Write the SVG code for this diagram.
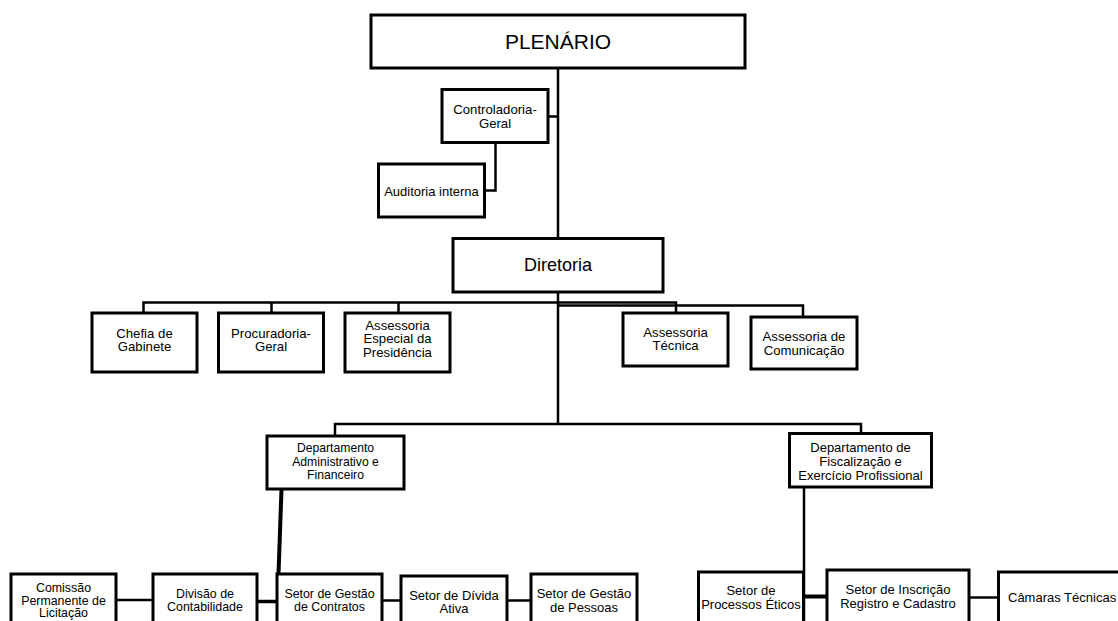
<svg xmlns="http://www.w3.org/2000/svg" width="1118" height="621" viewBox="0 0 1118 621">
<style>
.box{fill:#fff;stroke:#000;stroke-width:3}
.ln{fill:none;stroke:#000;stroke-width:2.5}
text{font-family:"Liberation Sans",Arial,sans-serif;fill:#000;text-anchor:middle;dominant-baseline:central}
.t13{font-size:13px}
.tb{font-size:12.4px}
.t135{font-size:13.2px}
</style>
<rect width="1118" height="621" fill="#fff"/>
<g id="connectors">
<path class="ln" d="M558,68V238M558,292V424"/>
<path class="ln" d="M548,116.5H558"/>
<path class="ln" d="M495.5,142V190.5H484"/>
<path class="ln" d="M143.5,313V302.5H676V313M271.5,302.5V313M398.5,302.5V313"/>
<path class="ln" d="M558,305.5H803V317"/>
<path class="ln" d="M335,436V424H861V433"/>
<path class="ln" d="M281.5,489L278.5,574" style="stroke-width:4"/>
<path class="ln" d="M116,600H153"/>
<path class="ln" d="M257,601.5H277" style="stroke-width:3.5"/>
<path class="ln" d="M382,600.5H401"/>
<path class="ln" d="M507,600.5H531"/>
<path class="ln" d="M804,487V621"/>
<path class="ln" d="M804,596.5H827" style="stroke-width:4"/>
<path class="ln" d="M969,597.5H998"/>
</g>
<g id="plenario"><rect class="box" x="371" y="15" width="374" height="53"/><text x="558" y="41.5" style="font-size:21px">PLENÁRIO</text></g>
<g id="controladoria"><rect class="box" x="442" y="89.5" width="106" height="53"/><text class="t135" x="495" y="109">Controladoria-</text><text class="t135" x="495" y="123">Geral</text></g>
<g id="auditoria"><rect class="box" x="378.5" y="164" width="106" height="53"/><text class="t13" x="431.5" y="191">Auditoria interna</text></g>
<g id="diretoria"><rect class="box" x="453" y="238.5" width="210" height="53.5"/><text x="558" y="264.5" style="font-size:18px">Diretoria</text></g>
<g id="chefia"><rect class="box" x="92" y="313" width="105" height="59"/><text class="t135" x="144.5" y="333.5">Chefia de</text><text class="t135" x="144.5" y="346.5">Gabinete</text></g>
<g id="procuradoria"><rect class="box" x="218.5" y="313" width="105" height="59"/><text class="t135" x="271" y="333.5">Procuradoria-</text><text class="t135" x="271" y="346.5">Geral</text></g>
<g id="assessoria-especial"><rect class="box" x="345" y="313" width="105" height="59"/><text class="t135" x="397.5" y="325">Assessoria</text><text class="t135" x="397.5" y="338.5">Especial da</text><text class="t135" x="397.5" y="352.5">Presidência</text></g>
<g id="assessoria-tecnica"><rect class="box" x="623" y="313" width="105" height="53"/><text class="t135" x="675.5" y="332.5">Assessoria</text><text class="t135" x="675.5" y="345.5">Técnica</text></g>
<g id="assessoria-comunicacao"><rect class="box" x="751" y="317" width="106" height="52"/><text class="t135" x="804" y="336">Assessoria de</text><text class="t135" x="804" y="350">Comunicação</text></g>
<g id="dept-admin"><rect class="box" x="267" y="436" width="137" height="53"/><text x="335.5" y="448" style="font-size:12.2px">Departamento</text><text x="335.5" y="461.5" style="font-size:12.2px">Administrativo e</text><text x="335.5" y="475" style="font-size:12.2px">Financeiro</text></g>
<g id="dept-fisc"><rect class="box" x="789.5" y="433.5" width="142" height="53.5"/><text class="t13" x="860.5" y="447">Departamento de</text><text class="t13" x="860.5" y="461">Fiscalização e</text><text class="t13" x="860.5" y="475">Exercício Profissional</text></g>
<g id="comissao"><rect class="box" x="11" y="574" width="105" height="70"/><text class="tb" x="63.5" y="588">Comissão</text><text class="tb" x="63.5" y="600.5">Permanente de</text><text class="tb" x="63.5" y="613">Licitação</text></g>
<g id="divisao"><rect class="box" x="153" y="574" width="104" height="70"/><text class="tb" x="205" y="594">Divisão de</text><text class="tb" x="205" y="606.5">Contabilidade</text></g>
<g id="setor-contratos"><rect class="box" x="277" y="574" width="105" height="70"/><text class="tb" x="329.5" y="594">Setor de Gestão</text><text class="tb" x="329.5" y="606.5">de Contratos</text></g>
<g id="setor-divida"><rect class="box" x="401" y="576" width="106" height="70"/><text class="t13" x="454" y="595">Setor de Dívida</text><text class="t13" x="454" y="608.5">Ativa</text></g>
<g id="setor-pessoas"><rect class="box" x="531" y="574" width="106" height="70"/><text class="t13" x="584" y="593.5">Setor de Gestão</text><text class="t13" x="584" y="607.5">de Pessoas</text></g>
<g id="setor-eticos"><rect class="box" x="698.5" y="572" width="105" height="70"/><text class="t13" x="751" y="590">Setor de</text><text class="t13" x="751" y="604">Processos Éticos</text></g>
<g id="setor-inscricao"><rect class="box" x="827" y="570" width="142" height="70"/><text class="t13" x="898" y="589.5">Setor de Inscrição</text><text class="t13" x="898" y="603">Registro e Cadastro</text></g>
<g id="camaras"><rect class="box" x="998.5" y="572" width="140" height="70"/><text class="t13" x="1008" y="597.5" style="text-anchor:start">Câmaras Técnicas</text></g>
</svg>
